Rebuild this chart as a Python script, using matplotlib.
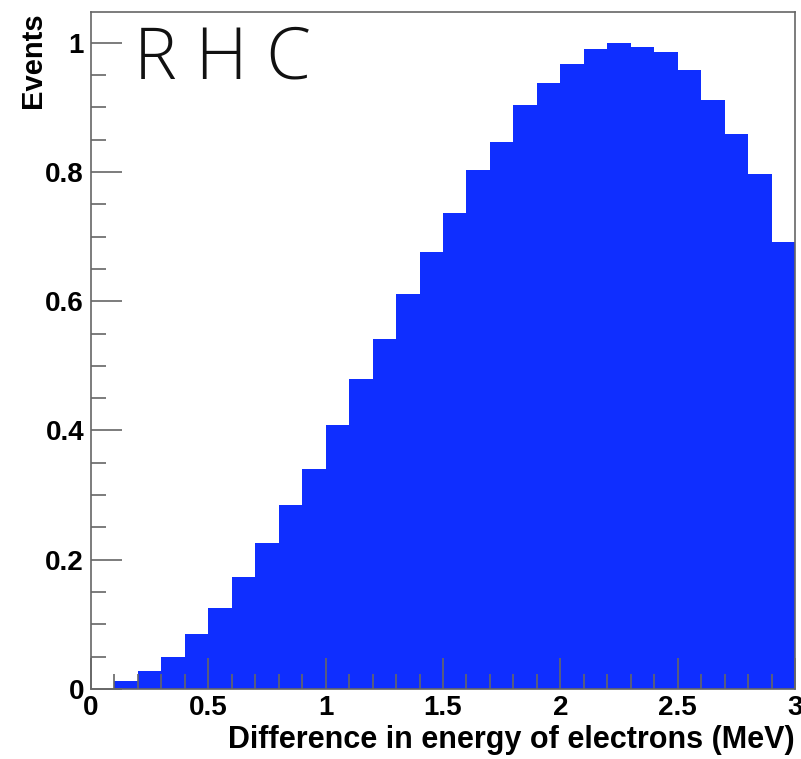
import numpy as np
import matplotlib
matplotlib.use("Agg")
import matplotlib.pyplot as plt
from matplotlib.ticker import MultipleLocator

# Histogram data: 30 bins from 0 to 3 MeV
bin_edges = np.linspace(0.0, 3.0, 31)
events = [0.000, 0.012, 0.028, 0.050, 0.085, 0.125, 0.173, 0.226, 0.285, 0.340,
          0.408, 0.480, 0.542, 0.611, 0.676, 0.736, 0.803, 0.847, 0.904, 0.938,
          0.967, 0.990, 1.000, 0.993, 0.986, 0.957, 0.911, 0.859, 0.797, 0.691]
x_ticks = [0, 0.5, 1, 1.5, 2, 2.5, 3]
x_tick_labels = ["0", "0.5", "1", "1.5", "2", "2.5", "3"]
y_ticks = [0, 0.2, 0.4, 0.6, 0.8, 1.0]
y_tick_labels = ["0", "0.2", "0.4", "0.6", "0.8", "1"]

plt.rcParams['font.family'] = ['Liberation Sans', 'DejaVu Sans']

fig = plt.figure(figsize=(8.01, 7.59), dpi=100)
ax = fig.add_axes([0.1136, 0.0922, 0.8789, 0.8916])

ax.stairs(events, bin_edges, fill=True, color='#0f2eff', linewidth=0, zorder=1)

ax.set_xlim(0, 3)
ax.set_ylim(0, 1.047)

frame_col = '#666666'
for s in ax.spines.values():
    s.set_color(frame_col)
    s.set_linewidth(1.2)

ax.set_xticks(x_ticks)
ax.set_xticklabels(x_tick_labels)
ax.set_yticks(y_ticks)
ax.set_yticklabels(y_tick_labels)
ax.xaxis.set_minor_locator(MultipleLocator(0.1))
ax.yaxis.set_minor_locator(MultipleLocator(0.05))

ax.tick_params(axis='both', which='major', direction='in', length=22, width=1.2,
               color=frame_col, labelsize=20)
ax.tick_params(axis='both', which='minor', direction='in', length=11, width=1.2,
               color=frame_col)
ax.tick_params(axis='x', which='major', pad=4)
ax.tick_params(axis='y', which='major', pad=5)
for lab in ax.get_xticklabels() + ax.get_yticklabels():
    lab.set_fontweight('bold')

ax.set_xlabel('Difference in energy of electrons (MeV)', fontsize=22,
              fontweight='bold', loc='right', labelpad=3)
ax.set_ylabel('Events', fontsize=21, fontweight='bold', loc='top')
ax.yaxis.set_label_coords(-0.062, 1.0)

ax.text(0.061, 0.984, 'R H C', transform=ax.transAxes, fontsize=52,
        fontweight='light', va='top', ha='left', color='#111111',
        family=['Open Sans', 'Roboto', 'DejaVu Sans'])

fig.savefig('out.png', dpi=100)
